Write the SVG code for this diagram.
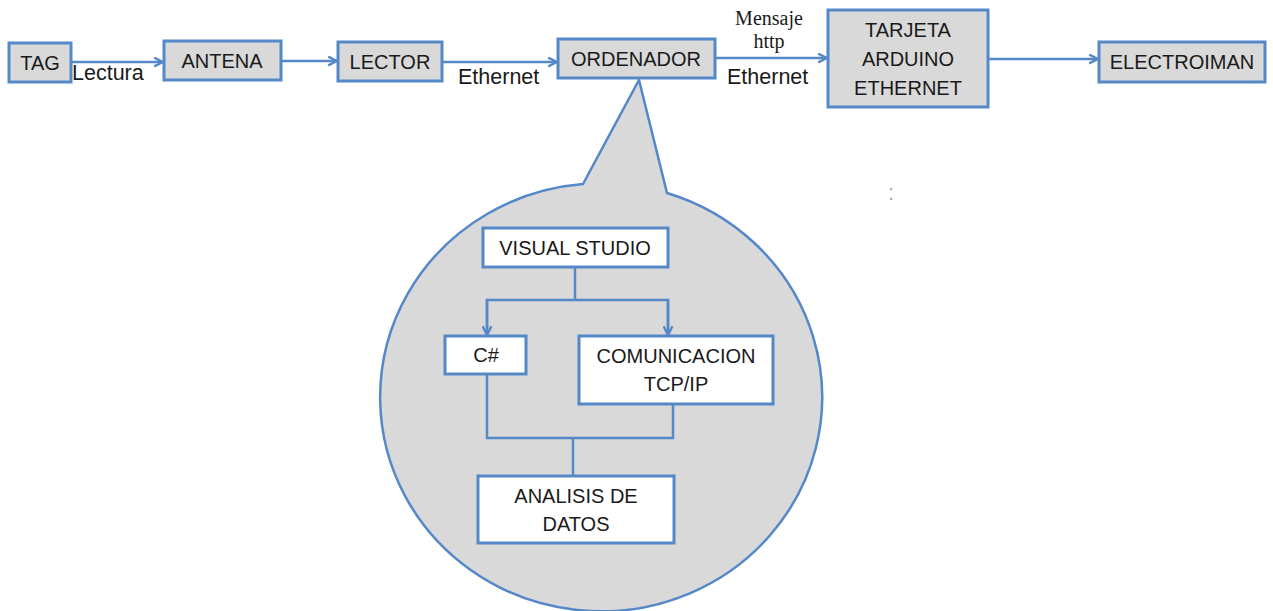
<svg xmlns="http://www.w3.org/2000/svg" width="1273" height="611" viewBox="0 0 1273 611">
<defs>
<marker id="arr" viewBox="0 0 10 10" refX="9" refY="5" markerWidth="11" markerHeight="11" orient="auto" markerUnits="userSpaceOnUse">
<path d="M1,1 L9,5 L1,9" fill="none" stroke="#5588C8" stroke-width="2.2"/>
</marker>
<style>
.box{fill:#D9D9D9;stroke:#5588C8;stroke-width:3}
.wbox{fill:#FFFFFF;stroke:#5588C8;stroke-width:3}
.ln{fill:none;stroke:#5588C8;stroke-width:2.5}
.t{font-family:"Liberation Sans",Arial,sans-serif;font-size:20px;fill:#1A1A1A;text-anchor:middle}
.lbl{font-family:"Liberation Sans",Arial,sans-serif;font-size:21.5px;fill:#1A1A1A}
.serif{font-family:"Liberation Serif","Times New Roman",serif;font-size:20px;fill:#1A1A1A;text-anchor:middle}
</style>
</defs>
<rect width="1273" height="611" fill="#FFFFFF"/>

<g id="callout">
<path d="M583,184 L639,80 L667,193 A221 214 0 1 1 583,184 Z" fill="#D9D9D9" stroke="#5588C8" stroke-width="2.5"/>
</g>

<g id="connectors">
<line class="ln" x1="71" y1="62" x2="163" y2="62" marker-end="url(#arr)"/>
<line class="ln" x1="281" y1="61" x2="337" y2="61" marker-end="url(#arr)"/>
<line class="ln" x1="442" y1="62" x2="557" y2="62" marker-end="url(#arr)"/>
<line class="ln" x1="715" y1="58" x2="827" y2="58" marker-end="url(#arr)"/>
<line class="ln" x1="988" y1="59" x2="1098" y2="59" marker-end="url(#arr)"/>
<path class="ln" d="M575,267 L575,300"/>
<path class="ln" d="M487,336 L487,300 L668,300 L668,336"/>
<line class="ln" x1="487" y1="300" x2="487" y2="335" marker-end="url(#arr)"/>
<line class="ln" x1="668" y1="300" x2="668" y2="335" marker-end="url(#arr)"/>
<path class="ln" d="M487,374 L487,438 L673,438 L673,404"/>
<path class="ln" d="M573,438 L573,476"/>
<text class="lbl" x="72" y="80">Lectura</text>
<text class="lbl" x="458" y="84">Ethernet</text>
<text class="serif" x="769" y="25">Mensaje</text>
<text class="serif" x="769" y="48">http</text>
<text class="lbl" x="727" y="84">Ethernet</text>
</g>

<g id="tag"><rect class="box" x="9" y="43" width="62" height="39"/><text class="t" x="40" y="70">TAG</text></g>
<g id="antena"><rect class="box" x="164" y="41" width="117" height="39"/><text class="t" x="222" y="68">ANTENA</text></g>
<g id="lector"><rect class="box" x="338" y="42" width="104" height="39"/><text class="t" x="390" y="69">LECTOR</text></g>
<g id="ordenador"><rect class="box" x="558" y="39" width="157" height="39"/><text class="t" x="636" y="66">ORDENADOR</text></g>
<g id="tarjeta"><rect class="box" x="828" y="10" width="160" height="97"/>
<text class="t" x="908" y="37">TARJETA</text><text class="t" x="908" y="66">ARDUINO</text><text class="t" x="908" y="95">ETHERNET</text></g>
<g id="electroiman"><rect class="box" x="1099" y="42" width="166" height="40"/><text class="t" x="1182" y="69">ELECTROIMAN</text></g>

<g id="visual-studio"><rect class="wbox" x="483" y="228" width="185" height="39"/><text class="t" x="575" y="255">VISUAL STUDIO</text></g>
<g id="csharp"><rect class="wbox" x="445" y="336" width="81" height="38"/><text class="t" x="486" y="362">C#</text></g>
<g id="comunicacion"><rect class="wbox" x="579" y="336" width="194" height="68"/>
<text class="t" x="676" y="363">COMUNICACION</text><text class="t" x="676" y="391">TCP/IP</text></g>
<g id="analisis"><rect class="wbox" x="478" y="476" width="196" height="67"/>
<text class="t" x="576" y="503">ANALISIS DE</text><text class="t" x="576" y="531">DATOS</text></g>

<text x="891" y="200" font-family="Liberation Sans, sans-serif" font-size="22" fill="#AAAAAA" text-anchor="middle">:</text>
</svg>
